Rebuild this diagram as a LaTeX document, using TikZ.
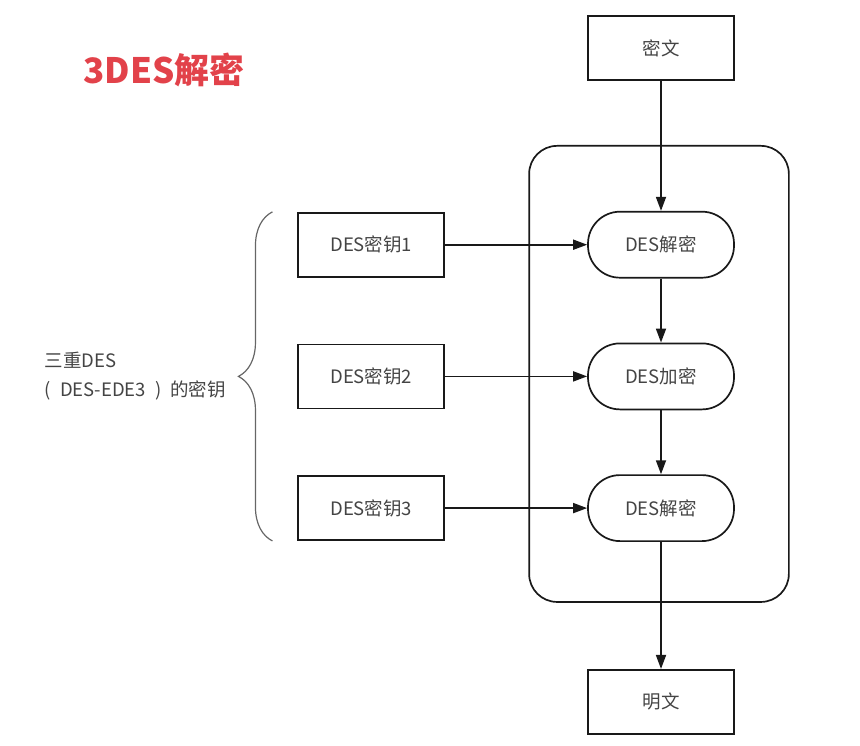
\documentclass[tikz,border=0pt]{standalone}
\usepackage{fontspec}
\setmainfont{Noto Sans CJK SC}
\usepackage{xcolor}
\usetikzlibrary{arrows.meta, positioning, decorations.pathreplacing}
\definecolor{titlered}{RGB}{226,66,74}
\definecolor{txtgray}{RGB}{68,68,68}
\definecolor{linegray}{RGB}{25,25,25}

\begin{document}
\begin{tikzpicture}[
	x=1pt, y=1pt,
	% Set the default distance between nodes.
	node distance=64pt and 142pt,
	font=\fontsize{18.5}{22}\selectfont
	]
	% Define custom styles to make the code cleaner and more reusable.
	\tikzset{
		textbox/.style={draw=linegray, rectangle, minimum height=64pt, minimum width=146pt, line width=1.7pt, text=txtgray},
		desstep/.style={draw=linegray, rectangle, rounded corners=32pt, minimum height=66pt, minimum width=146pt, line width=1.7pt, text=txtgray},
		line/.style={draw=linegray, line width=1.7pt, -{Triangle[length=14pt, width=10pt]}}
	}
	\useasboundingbox (0,0) rectangle (860,-746);
	
	% === NODES ===
	% Title, plaintext/ciphertext and the three DES steps.
	
	\node[font=\fontsize{35}{40}\selectfont\bfseries, text=titlered] (title) at (164,-70) {3DES解密};
	\node[textbox] (cipher) at (661,-48) {密文};
	\node[desstep, below=130pt of cipher] (dec1) {DES解密};
	\node[desstep, below=of dec1] (enc) {DES加密};
	\node[desstep, below=of enc] (dec2) {DES解密};
	\node[textbox, below=127pt of dec2] (plain) {明文};
	
	% Keys on the left
	\node[textbox, left=of dec1] (key1) {DES密钥1};
	\node[textbox, left=of enc] (key2) {DES密钥2};
	\node[textbox, left=of dec2] (key3) {DES密钥3};
	\node[left=68pt of key2, align=left, text=txtgray, font=\fontsize{18.5}{29}\selectfont] (keylabel) {三重DES\\(\hspace{9pt}DES-EDE3\hspace{9pt})\hspace{9pt}的密钥};
	
	% === CONNECTIONS ===
	% Frame round the three steps.
	\draw[draw=linegray, line width=1.7pt, rounded corners=28pt] ([xshift=-58pt, yshift=65pt]dec1.north west) rectangle ([xshift=54pt, yshift=-60pt]dec2.south east);
	
	\draw[line] (cipher) -- (dec1);
	\draw[line] (dec1) -- (enc);
	\draw[line] (enc) -- (dec2);
	\draw[line] (dec2) -- (plain);
	
	\draw[line] (key1) -- (dec1);
	\draw[line] (key2) -- (enc);
	\draw[line] (key3) -- (dec2);
	
	% Brace for the keys
	\draw[draw=gray!80!black, line width=1.2pt, decorate, decoration={brace, amplitude=34pt}] ([xshift=-25pt]key3.south west) -- ([xshift=-25pt]key1.north west);
\end{tikzpicture}
\end{document}
